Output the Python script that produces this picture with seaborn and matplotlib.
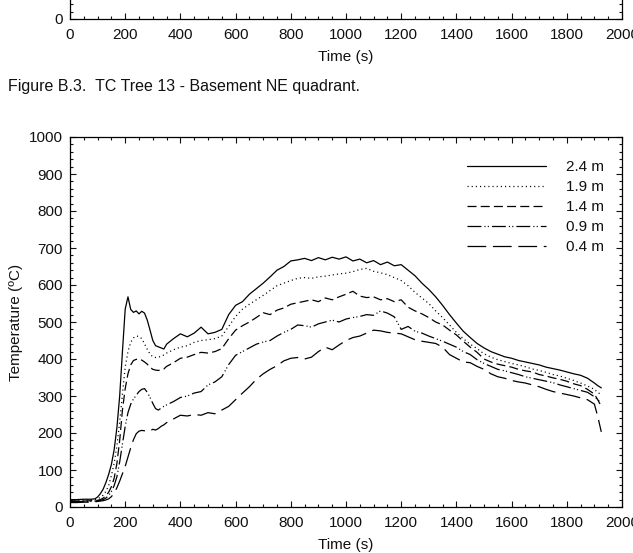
import matplotlib
matplotlib.use("Agg")
import matplotlib.pyplot as plt
import seaborn as sns
from matplotlib.ticker import MultipleLocator

# time axis shared by all five thermocouples (s)
time_s = [0, 25, 50, 75, 90,
          100, 110, 120, 130, 140, 150, 160, 170, 180, 190,
          200, 210, 220, 230, 240, 250, 260, 270, 280, 290,
          300, 310, 320, 330, 340, 350,
          375, 400, 425, 450, 475, 500, 525, 550, 575, 600,
          625, 650, 675, 700, 725, 750, 775, 800, 825, 850,
          875, 900, 925, 950, 975, 1000, 1025, 1050, 1075, 1100,
          1125, 1150, 1175, 1200, 1225, 1250, 1275, 1300, 1325, 1350,
          1375, 1400, 1425, 1450, 1475, 1500, 1525, 1550, 1575, 1600,
          1625, 1650, 1675, 1700, 1725, 1750, 1775, 1800, 1825, 1850,
          1875, 1900, 1912, 1925]

temp_24m = [20, 20, 21, 21, 22,
            27, 36, 48, 66, 88, 115, 155, 215, 300, 420,
            535, 568, 534, 526, 530, 522, 529, 524, 505, 478,
            450, 436, 433, 430, 427, 440,
            455, 468, 460, 470, 486, 468, 472, 480, 520, 545,
            555, 575, 590, 605, 622, 640, 650, 665, 668, 672,
            666, 674, 668, 675, 670, 676, 665, 670, 660, 666,
            655, 662, 652, 655, 640, 625, 605, 588, 568, 545,
            520, 497, 475, 458, 442, 430, 420, 413, 406, 402,
            396, 392, 388, 384, 378, 374, 370, 365, 360, 356,
            348, 335, 328, 322]

temp_19m = [18, 18, 18, 19, 20,
            22, 26, 32, 42, 58, 85, 118, 165, 230, 305,
            378, 420, 445, 457, 462, 461, 455, 441, 426, 413,
            406, 404, 405, 407, 411, 416,
            425, 432, 436, 445, 450, 452, 455, 462, 488, 515,
            535, 548, 560, 572, 585, 598, 605, 612, 618, 620,
            618, 622, 624, 627, 630, 632, 636, 642, 645, 637,
            633, 628, 620, 612, 598, 580, 565, 550, 530, 512,
            492, 472, 455, 440, 428, 414, 405, 398, 393, 388,
            384, 379, 373, 369, 364, 358, 354, 348, 342, 335,
            327, 318, 310, 303]

temp_14m = [16, 16, 16, 17, 17,
            18, 20, 24, 30, 40, 55, 78, 118, 180, 262,
            320, 360, 384, 396, 399, 400, 397, 392, 386, 378,
            372, 370, 369, 371, 373, 380,
            390, 402, 405, 412, 418, 416, 420, 428, 455, 478,
            490, 500, 512, 525, 520, 532, 538, 548, 552, 556,
            560, 555, 565, 560, 568, 575, 583, 570, 566, 568,
            560, 563, 555, 560, 540, 530, 522, 512, 500, 492,
            478, 465, 448, 432, 418, 400, 392, 386, 382, 378,
            372, 368, 365, 358, 354, 349, 345, 340, 333, 328,
            318, 305, 290, 272]

temp_09m = [15, 15, 15, 15, 16,
            17, 18, 20, 24, 31, 42, 58, 82, 122, 170,
            218, 255, 278, 292, 302, 312, 318, 320, 310, 296,
            280, 266, 262, 267, 272, 276,
            285, 296, 300, 308, 312, 330, 338, 352, 385, 410,
            420, 430, 440, 446, 450, 462, 472, 480, 492, 490,
            486, 495, 500, 505, 500, 508, 512, 515, 520, 518,
            530, 524, 514, 480, 488, 475, 470, 462, 455, 448,
            440, 432, 420, 412, 398, 388, 380, 372, 368, 363,
            358, 352, 348, 344, 340, 336, 330, 325, 320, 315,
            310, 298, 290, 282]

temp_04m = [12, 12, 13, 13, 14,
            15, 16, 17, 19, 22, 28, 38, 52, 70, 90,
            110, 135, 160, 182, 198, 205, 207, 206, 208, 206,
            210, 208, 212, 218, 222, 228,
            238, 248, 246, 250, 248, 255, 252, 262, 272, 290,
            308, 325, 345, 360, 372, 382, 395, 402, 404, 400,
            405, 420, 432, 425, 438, 450, 458, 462, 470, 478,
            476, 472, 470, 468, 460, 452, 448, 445, 442, 432,
            412, 402, 392, 390, 380, 372, 360, 352, 348, 342,
            338, 335, 330, 325, 318, 312, 308, 304, 300, 295,
            290, 278, 245, 203]

labels = ["2.4 m", "1.9 m", "1.4 m", "0.9 m", "0.4 m"]
series = [temp_24m, temp_19m, temp_14m, temp_09m, temp_04m]
styles = ["-", (0, (0.8, 2.2)), (0, (6.5, 3.0)),
          (0, (10.0, 2.2, 0.8, 1.6, 0.8, 2.2)), (0, (13.5, 4.8))]

FS = 11

sns.set_style("ticks")
plt.rcParams["font.family"] = ["Liberation Sans", "DejaVu Sans"]
plt.rcParams["lines.scale_dashes"] = False
plt.rcParams["text.color"] = "#111111"
plt.rcParams["axes.labelcolor"] = "#111111"
plt.rcParams["xtick.color"] = "#111111"
plt.rcParams["ytick.color"] = "#111111"

W, H = 633, 553
fig = plt.figure(figsize=(W / 100, H / 100), dpi=100)
ax = fig.add_axes([70 / W, 1 - 507 / H, 552 / W, 370 / H])
top = fig.add_axes([70 / W, 1 - 19 / H, 552 / W, 370 / H])


def style_axes(a):
    a.set_xlim(0, 2000)
    a.set_ylim(0, 1000)
    a.xaxis.set_major_locator(MultipleLocator(200))
    a.xaxis.set_minor_locator(MultipleLocator(50))
    a.yaxis.set_major_locator(MultipleLocator(100))
    a.yaxis.set_minor_locator(MultipleLocator(20))
    a.tick_params(which="both", direction="in", top=True, right=True,
                  width=0.8, labelsize=FS)
    a.tick_params(which="major", length=4)
    a.tick_params(which="minor", length=2.2)
    a.tick_params(axis="x", pad=6.5)
    a.tick_params(axis="y", pad=5)
    for s in a.spines.values():
        s.set_linewidth(0.9)
        s.set_color("black")
    a.set_xlabel("Time (s)", fontsize=FS, labelpad=6)


style_axes(ax)
style_axes(top)

for vals, lab, ls in zip(series, labels, styles):
    sns.lineplot(x=time_s, y=vals, ax=ax, color="black", linewidth=0.9,
                 linestyle=ls, label=lab, errorbar=None)

ax.set_xlabel("Time (s)", fontsize=FS, labelpad=6)
ax.set_ylabel("Temperature (\u00baC)", fontsize=FS, labelpad=4)
ax.legend(loc="upper left", bbox_to_anchor=(467 / W, 1 - 160 / H),
          bbox_transform=fig.transFigure, frameon=False, fontsize=FS,
          handlelength=5.2, handletextpad=1.25, labelspacing=0.4,
          borderpad=0, borderaxespad=0)

fig.text(8 / W, 1 - 86 / H, "Figure B.3.  TC Tree 13 - Basement NE quadrant.",
         fontsize=11.5, va="center", ha="left")

fig.savefig("out.png", dpi=100)
